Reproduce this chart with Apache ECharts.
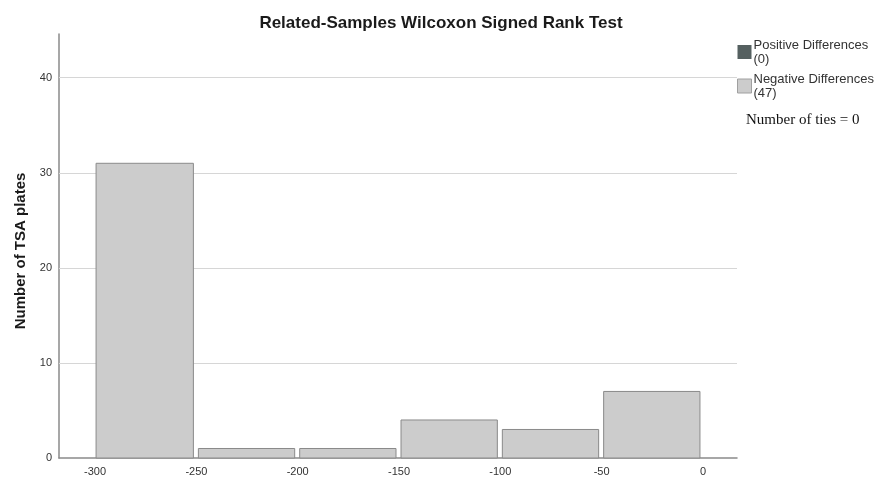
<!DOCTYPE html>
<html>
<head>
<meta charset="utf-8">
<script src="https://cdn.jsdelivr.net/npm/echarts@6/dist/echarts.min.js"></script>
<style>html,body{margin:0;padding:0;background:#fff}#c{width:874px;height:479px}</style>
</head>
<body>
<div id="c"></div>
<script>
var binStarts = [-300, -250, -200, -150, -100, -50];
var binEnds = [-250, -200, -150, -100, -50, 0];
var negativeCounts = [31, 1, 1, 4, 3, 7];
var positiveCounts = [0, 0, 0, 0, 0, 0];
var yTicks = [0, 10, 20, 30, 40];
var gridLineValues = [10, 20, 30, 40];
var xTicks = [-300, -250, -200, -150, -100, -50, 0];
var titleText = 'Related-Samples Wilcoxon Signed Rank Test';
var yName = 'Number of TSA plates';
var legendNames = ['Positive Differences\n(0)', 'Negative Differences\n(47)'];
var tiesText = 'Number of ties = 0';

var negData = binStarts.map(function (s, i) { return [s, binEnds[i], negativeCounts[i]]; });
var posData = [];
positiveCounts.forEach(function (v, i) { if (v > 0) posData.push([binStarts[i], binEnds[i], v]); });

var chart = echarts.init(document.getElementById('c'), null, {renderer: 'canvas'});
function makeRender(fill) {
  return function (params, api) {
    var p0 = api.coord([api.value(0), 0]);
    var p1 = api.coord([api.value(1), api.value(2)]);
    var x0 = p0[0] + (params.dataIndex === 0 ? 1 : 2);
    var x1 = p1[0] - 3;
    return {
      type: 'rect',
      shape: {x: x0, y: p1[1], width: x1 - x0, height: p0[1] - p1[1]},
      style: {fill: fill, stroke: '#8a8a8a', lineWidth: 1}
    };
  };
}
var FONT = 'Liberation Sans, Arial, sans-serif';
chart.setOption({
  animation: false,
  title: {
    text: titleText, left: 436, top: 10, textAlign: 'center',
    textStyle: {fontFamily: FONT, fontSize: 17, fontWeight: 'bold', color: '#1a1a1a'}
  },
  grid: {left: 59, right: 137, top: 34, bottom: 21},
  xAxis: {
    type: 'value', min: -317.8, max: 16.8, splitNumber: 7,
    axisLine: {show: true, onZero: false, lineStyle: {color: '#8a8a8a', width: 1.5}},
    axisTick: {show: false},
    splitLine: {show: false},
    axisLabel: {
      fontFamily: FONT, fontSize: 11, color: '#333', margin: 8,
      showMinLabel: true, showMaxLabel: true,
      formatter: function (v) { return xTicks.indexOf(Math.round(v * 1000) / 1000) >= 0 ? String(v) : ''; }
    }
  },
  yAxis: {
    type: 'value', min: 0, max: 44.6, interval: 10,
    name: yName, nameLocation: 'middle', nameGap: 31,
    nameTextStyle: {fontFamily: FONT, fontSize: 15, fontWeight: 'bold', color: '#1a1a1a', padding: [0, 0, 0, -10]},
    axisLine: {show: true, onZero: false, lineStyle: {color: '#8a8a8a', width: 1.5}},
    axisTick: {show: false},
    splitLine: {show: false},
    axisLabel: {
      fontFamily: FONT, fontSize: 11, color: '#333', margin: 7,
      formatter: function (v) { return yTicks.indexOf(v) >= 0 ? String(v) : ''; }
    }
  },
  legend: {
    orient: 'vertical', left: 737, top: 38, padding: 0, itemWidth: 14, itemHeight: 14, itemGap: 6,
    icon: 'rect',
    textStyle: {fontFamily: FONT, fontSize: 13, color: '#333', lineHeight: 14, padding: [0, 0, 0, -3]},
    data: [
      {name: legendNames[0], itemStyle: {color: '#556060'}},
      {name: legendNames[1], itemStyle: {color: '#cccccc', borderColor: '#a0a0a0', borderWidth: 1}}
    ]
  },
  graphic: [
    {type: 'text', left: 746, top: 113, style: {text: tiesText, font: '15px "Liberation Serif", "Times New Roman", serif', fill: '#111'}}
  ],
  series: [
    {
      name: legendNames[0], type: 'custom', renderItem: makeRender('#556060'),
      itemStyle: {color: '#556060'},
      encode: {x: [0, 1], y: 2},
      data: posData
    },
    {
      name: legendNames[1], type: 'custom', renderItem: makeRender('#cccccc'),
      itemStyle: {color: '#cccccc'},
      encode: {x: [0, 1], y: 2},
      data: negData,
      z: 3,
      markLine: {
        silent: true, symbol: 'none', label: {show: false}, z: 1,
        lineStyle: {color: '#d6d6d6', width: 1, type: 'solid'},
        data: gridLineValues.map(function (v) { return {yAxis: v}; })
      }
    }
  ]
});
</script>
</body>
</html>
